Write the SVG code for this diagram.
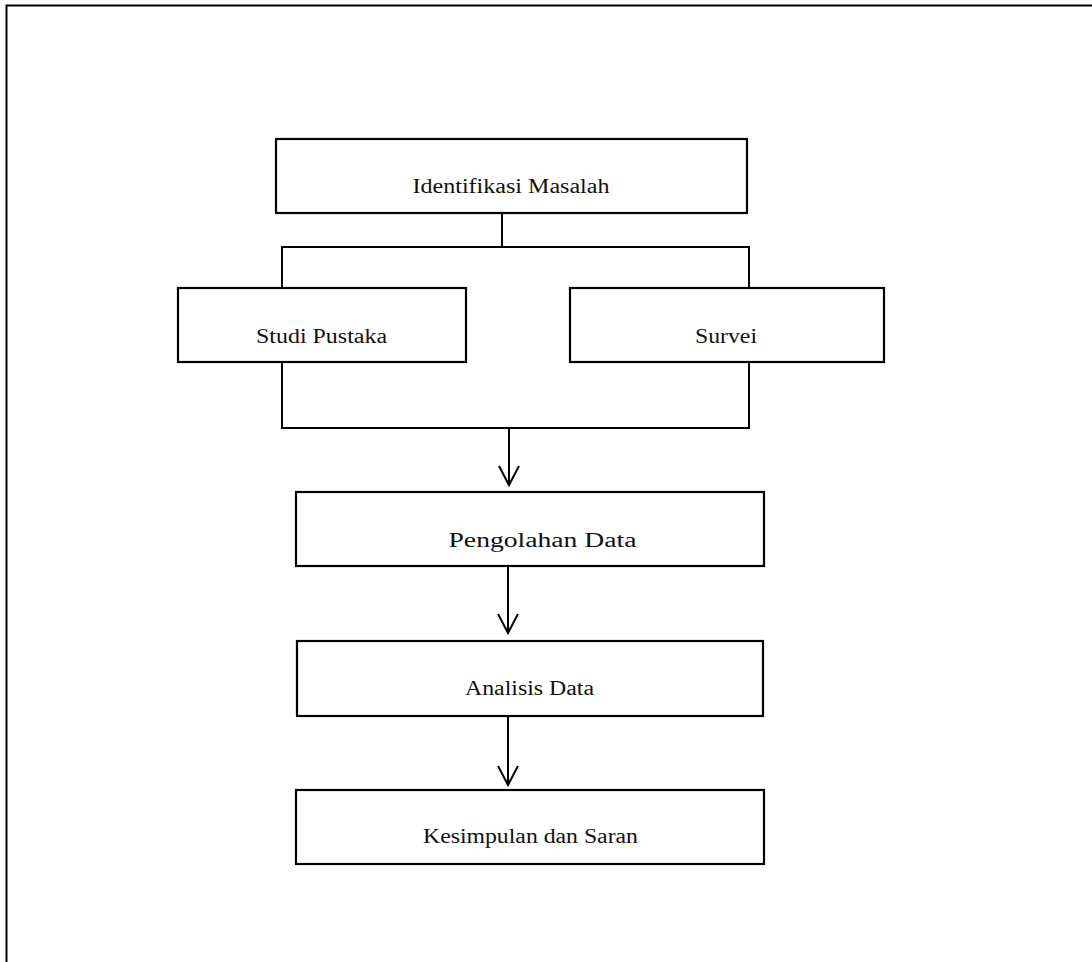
<svg xmlns="http://www.w3.org/2000/svg" width="1092" height="962" viewBox="0 0 1092 962">
<style>
.box{fill:#fff;stroke:#000;stroke-width:2.2}
.ln{fill:none;stroke:#000;stroke-width:2}
.t{font-family:"Liberation Serif","Times New Roman",serif;font-size:20px;fill:#111;text-anchor:middle}
</style>
<rect width="1092" height="962" fill="#fff"/>
<path class="ln" d="M6.5,962 V5.5 H1092" stroke-width="2.2"/>
<g id="connectors">
<path class="ln" d="M502,213 V247 M282,287 V247 H749 V287"/>
<path class="ln" d="M282,363 V428 H749 V363"/>
<path class="ln" d="M509,429 V485 M499,466 L509,485 L519,466"/>
<path class="ln" d="M508,566 V633 M498,614 L508,633 L518,614"/>
<path class="ln" d="M508,716 V785 M498,766 L508,785 L518,766"/>
</g>
<g id="identifikasi"><rect class="box" x="276" y="139" width="471" height="74"/><text class="t" x="511" y="193" textLength="197" lengthAdjust="spacingAndGlyphs">Identifikasi Masalah</text></g>
<g id="studi"><rect class="box" x="178" y="288" width="288" height="74"/><text class="t" x="321.5" y="343" textLength="131" lengthAdjust="spacingAndGlyphs">Studi Pustaka</text></g>
<g id="survei"><rect class="box" x="570" y="288" width="314" height="74"/><text class="t" x="726" y="343" textLength="62" lengthAdjust="spacingAndGlyphs">Survei</text></g>
<g id="pengolahan"><rect class="box" x="296" y="492" width="468" height="74"/><text class="t" x="542.5" y="547" textLength="188" lengthAdjust="spacingAndGlyphs">Pengolahan Data</text></g>
<g id="analisis"><rect class="box" x="297" y="641" width="466" height="75"/><text class="t" x="529.5" y="695" textLength="129" lengthAdjust="spacingAndGlyphs">Analisis Data</text></g>
<g id="kesimpulan"><rect class="box" x="296" y="790" width="468" height="74"/><text class="t" x="530.5" y="843" textLength="215" lengthAdjust="spacingAndGlyphs">Kesimpulan dan Saran</text></g>
</svg>
